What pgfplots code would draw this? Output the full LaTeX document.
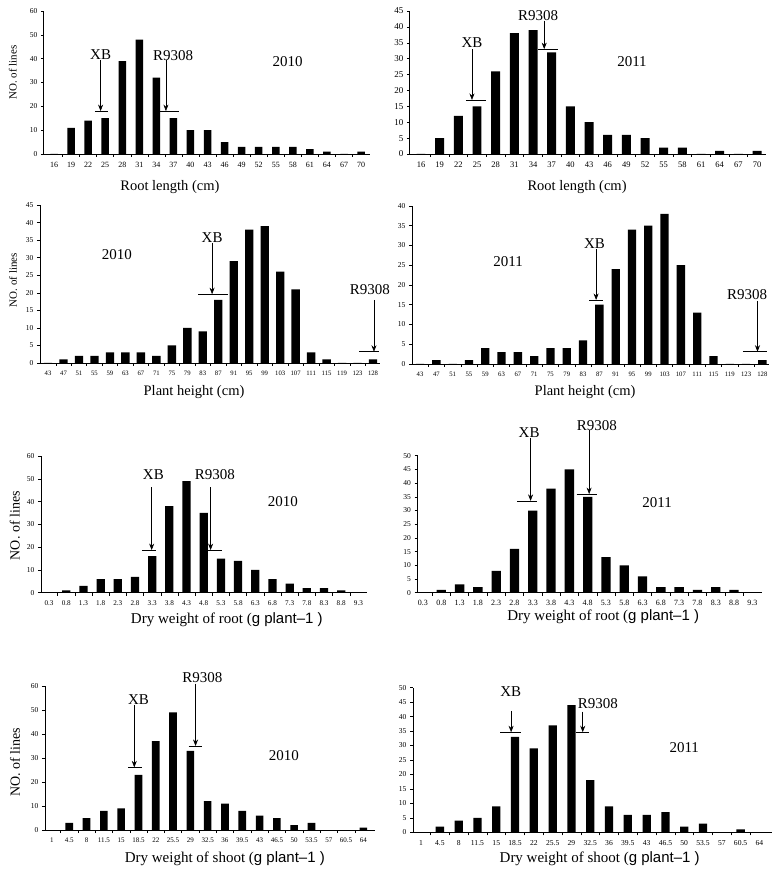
\documentclass[border=0pt]{standalone}
\usepackage{fontspec}
\setmainfont{Liberation Serif}
\newfontfamily\arialf{Liberation Sans}
\usepackage{pgfplots}
\pgfplotsset{compat=1.18}
\usetikzlibrary{arrows.meta}

\pgfplotsset{
  hist/.style={
    scale only axis, ybar, bar width=0.47,
    axis x line*=bottom, axis y line*=left,
    ymin=0, clip=false, enlargelimits=false,
    tick align=outside, major tick length=3pt, minor tick length=3pt,
    major x tick style={draw=none},
    minor x tick style={black, line width=0.5pt},
    y tick style={black, line width=0.5pt},
    axis line style={black, line width=0.7pt, -},
    tick label style={font=\fontsize{7.5}{8}\selectfont},
    xticklabel style={yshift=-1.5pt},
    /pgf/number format/assume math mode=true,
    xlabel style={font=\fontsize{14.5}{16}\selectfont, anchor=center},
    ylabel style={font=\fontsize{11}{12}\selectfont, anchor=center},
  },
  bars/.style={fill=black, draw=none},
}
\tikzset{
  ann/.style={font=\fontsize{15}{16}\selectfont, inner sep=0pt},
  arr/.style={-{Stealth[length=6.5pt,width=5pt]}, line width=0.6pt},
  lvl/.style={line width=0.7pt},
}

\begin{document}
\begin{tikzpicture}
\useasboundingbox (0,0) rectangle (779pt,876pt);

% ---------- Root length 2010 ----------
\begin{axis}[hist, at={(43.8pt,722pt)}, anchor=south west,
  width=325.8pt, height=143pt, xmin=-0.6, xmax=18.5, ymax=60,
  ytick={0,10,...,60}, bar width=0.44,
  xtick={0,...,18}, minor xtick={0.5,1.5,...,17.5},
  xticklabels={16,19,22,25,28,31,34,37,40,43,46,49,52,55,58,61,64,67,70},
  xticklabel style={font=\fontsize{8}{9}\selectfont},
  xlabel={Root length (cm)},
  xlabel style={at={(axis description cs:0.387,-0.231)}},
  ylabel={NO. of lines},
  ylabel style={at={(axis description cs:-0.095,0.57)}},
]
\addplot[bars] coordinates {(0,0) (1,11) (2,14) (3,15) (4,39) (5,48) (6,32) (7,15) (8,10) (9,10)
  (10,5) (11,3) (12,3) (13,3) (14,3) (15,2) (16,1) (17,0) (18,1)};
\node[ann] at (axis cs:2.73,41.5) {XB};
\draw[arr] (axis cs:2.73,39.4) -- (axis cs:2.73,18);
\draw[lvl] (axis cs:2.4,18) -- (axis cs:3.17,18);
\node[ann] at (axis cs:6.98,41.5) {R9308};
\draw[arr] (axis cs:6.56,39.4) -- (axis cs:6.56,18);
\draw[lvl] (axis cs:6.2,18) -- (axis cs:7.3,18);
\node[ann] at (axis cs:13.7,38.7) {2010};
\end{axis}

% ---------- Root length 2011 ----------
\begin{axis}[hist, at={(409.8pt,722pt)}, anchor=south west,
  width=356.6pt, height=143pt, xmin=-0.6, xmax=18.5, ymax=45,
  ytick={0,5,...,45}, bar width=0.48,
  yticklabel style={font=\fontsize{9}{10}\selectfont},
  xtick={0,...,18}, minor xtick={0.5,1.5,...,17.5},
  xticklabels={16,19,22,25,28,31,34,37,40,43,46,49,52,55,58,61,64,67,70},
  xticklabel style={font=\fontsize{8.5}{9}\selectfont},
  xlabel={Root length (cm)},
  xlabel style={at={(axis description cs:0.469,-0.231)}},
]
\addplot[bars] coordinates {(0,0) (1,5) (2,12) (3,15) (4,26) (5,38) (6,39) (7,32) (8,15) (9,10)
  (10,6) (11,6) (12,5) (13,2) (14,2) (15,0) (16,1) (17,0) (18,1)};
\node[ann] at (axis cs:2.73,34.9) {XB};
\draw[arr] (axis cs:2.73,32.9) -- (axis cs:2.73,17);
\draw[lvl] (axis cs:2.4,17) -- (axis cs:3.5,17);
\node[ann] at (axis cs:6.27,43.7) {R9308};
\draw[arr] (axis cs:6.6,42) -- (axis cs:6.6,33);
\draw[lvl] (axis cs:6.27,33) -- (axis cs:7.35,33);
\node[ann] at (axis cs:11.3,29) {2011};
\end{axis}

% ---------- Plant height 2010 ----------
\begin{axis}[hist, at={(40pt,513pt)}, anchor=south west,
  width=340pt, height=158pt, xmin=-0.52, xmax=21.45, ymax=45,
  ytick={0,5,...,45}, bar width=0.54,
  xtick={0,...,21}, minor xtick={0.5,1.5,...,20.5},
  xticklabels={43,47,51,55,59,63,67,71,75,79,83,87,91,95,99,103,107,111,115,119,123,128},
  xticklabel style={font=\fontsize{6.7}{7}\selectfont},
  xlabel={Plant height (cm)},
  xlabel style={at={(axis description cs:0.453,-0.184)}},
  ylabel={NO. of lines},
  ylabel style={at={(axis description cs:-0.079,0.525)}},
]
\addplot[bars] coordinates {(0,0) (1,1) (2,2) (3,2) (4,3) (5,3) (6,3) (7,2) (8,5) (9,10) (10,9)
  (11,18) (12,29) (13,38) (14,39) (15,26) (16,21) (17,3) (18,1) (19,0) (20,0) (21,1)};
\node[ann] at (axis cs:10.6,35.6) {XB};
\draw[arr] (axis cs:10.6,34.2) -- (axis cs:10.6,19.6);
\draw[lvl] (axis cs:9.7,19.6) -- (axis cs:11.6,19.6);
\node[ann] at (axis cs:20.8,21) {R9308};
\draw[arr] (axis cs:21.06,18) -- (axis cs:21.06,3.2);
\draw[lvl] (axis cs:20.1,3.2) -- (axis cs:21.4,3.2);
\node[ann] at (axis cs:4.45,30.8) {2010};
\end{axis}

% ---------- Plant height 2011 ----------
\begin{axis}[hist, at={(411.9pt,512pt)}, anchor=south west,
  width=357pt, height=158pt, xmin=-0.5, xmax=21.4, ymax=40,
  ytick={0,5,...,40}, bar width=0.51,
  xtick={0,...,21}, minor xtick={0.5,1.5,...,20.5},
  xticklabels={43,47,51,55,59,63,67,71,75,79,83,87,91,95,99,103,107,111,115,119,123,128},
  xticklabel style={font=\fontsize{6.7}{7}\selectfont},
  xlabel={Plant height (cm)},
  xlabel style={at={(axis description cs:0.485,-0.177)}},
]
\addplot[bars] coordinates {(0,0) (1,1) (2,0) (3,1) (4,4) (5,3) (6,3) (7,2) (8,4) (9,4) (10,6)
  (11,15) (12,24) (13,34) (14,35) (15,38) (16,25) (17,13) (18,2) (19,0) (20,0) (21,1)};
\node[ann] at (axis cs:10.7,30.6) {XB};
\draw[arr] (axis cs:10.8,29) -- (axis cs:10.8,16.2);
\draw[lvl] (axis cs:10.37,16.2) -- (axis cs:11.2,16.2);
\node[ann] at (axis cs:20.06,17.5) {R9308};
\draw[arr] (axis cs:20.7,16) -- (axis cs:20.7,3.1);
\draw[lvl] (axis cs:19.8,3.1) -- (axis cs:21.3,3.1);
\node[ann] at (axis cs:5.4,26) {2011};
\end{axis}

% ---------- Dry weight of root 2010 ----------
\begin{axis}[hist, at={(41pt,283.3pt)}, anchor=south west,
  width=326pt, height=136.7pt, xmin=-0.47, xmax=18.5, ymax=60,
  ytick={0,10,...,60}, bar width=0.48,
  xtick={0,...,18}, minor xtick={0.5,1.5,...,17.5},
  xticklabels={0.3,0.8,1.3,1.8,2.3,2.8,3.3,3.8,4.3,4.8,5.3,5.8,6.3,6.8,7.3,7.8,8.3,8.8,9.3},
  xticklabel style={font=\fontsize{7.2}{8}\selectfont},
  xlabel={Dry weight of root ({\arialf g plant–1 )}},
  xlabel style={font=\fontsize{15}{16}\selectfont, at={(axis description cs:0.57,-0.201)}},
  ylabel={NO. of lines},
  ylabel style={font=\fontsize{14}{15}\selectfont, at={(axis description cs:-0.08,0.49)}},
]
\addplot[bars] coordinates {(0,0) (1,1) (2,3) (3,6) (4,6) (5,7) (6,16) (7,38) (8,49) (9,35)
  (10,15) (11,14) (12,10) (13,6) (14,4) (15,2) (16,2) (17,1) (18,0)};
\node[ann] at (axis cs:6.07,52) {XB};
\draw[arr] (axis cs:5.97,46.3) -- (axis cs:5.97,18.7);
\draw[lvl] (axis cs:5.4,18.7) -- (axis cs:6.22,18.7);
\node[ann] at (axis cs:9.65,52) {R9308};
\draw[arr] (axis cs:9.4,46.3) -- (axis cs:9.4,18.7);
\draw[lvl] (axis cs:9.2,18.7) -- (axis cs:10.05,18.7);
\node[ann] at (axis cs:13.6,39.9) {2010};
\end{axis}

% ---------- Dry weight of root 2011 ----------
\begin{axis}[hist, at={(417.5pt,283.3pt)}, anchor=south west,
  width=344pt, height=137pt, xmin=-0.3, xmax=18.5, ymax=50,
  ytick={0,5,...,50}, bar width=0.51,
  xtick={0,...,18}, minor xtick={0.5,1.5,...,17.5},
  xticklabels={0.3,0.8,1.3,1.8,2.3,2.8,3.3,3.8,4.3,4.8,5.3,5.8,6.3,6.8,7.3,7.8,8.3,8.8,9.3},
  xticklabel style={font=\fontsize{8}{9}\selectfont, yshift=0.5pt},
  xlabel={Dry weight of root ({\arialf g plant–1 )}},
  xlabel style={font=\fontsize{15}{16}\selectfont, at={(axis description cs:0.54,-0.175)}},
]
\addplot[bars] coordinates {(0,0) (1,1) (2,3) (3,2) (4,8) (5,16) (6,30) (7,38) (8,45) (9,35)
  (10,13) (11,10) (12,6) (13,2) (14,2) (15,1) (16,2) (17,1) (18,0)};
\node[ann] at (axis cs:5.8,58.3) {XB};
\draw[arr] (axis cs:5.88,56.4) -- (axis cs:5.88,33.5);
\draw[lvl] (axis cs:5.15,33.5) -- (axis cs:6.25,33.5);
\node[ann] at (axis cs:9.5,61) {R9308};
\draw[arr] (axis cs:9.08,59.4) -- (axis cs:9.08,36);
\draw[lvl] (axis cs:8.4,36) -- (axis cs:9.5,36);
\node[ann] at (axis cs:12.8,32.8) {2011};
\end{axis}

% ---------- Dry weight of shoot 2010 ----------
\begin{axis}[hist, at={(45pt,46pt)}, anchor=south west,
  width=330pt, height=144pt, xmin=-0.4, xmax=18.67, ymax=60,
  ytick={0,10,...,60}, bar width=0.44,
  xtick={0,...,18}, minor xtick={0.5,1.5,...,17.5},
  xticklabels={1,4.5,8,11.5,15,18.5,22,25.5,29,32.5,36,39.5,43,46.5,50,53.5,57,60.5,64},
  xticklabel style={font=\fontsize{7}{8}\selectfont},
  xlabel={Dry weight of shoot ({\arialf g plant–1 )}},
  xlabel style={font=\fontsize{15}{16}\selectfont, at={(axis description cs:0.545,-0.201)}},
  ylabel={NO. of lines},
  ylabel style={font=\fontsize{14}{15}\selectfont, at={(axis description cs:-0.091,0.47)}},
]
\addplot[bars] coordinates {(0,0) (1,3) (2,5) (3,8) (4,9) (5,23) (6,37) (7,49) (8,33) (9,12)
  (10,11) (11,8) (12,6) (13,5) (14,2) (15,3) (16,0) (17,0) (18,1)};
\node[ann] at (axis cs:5.0,54.4) {XB};
\draw[arr] (axis cs:4.76,52) -- (axis cs:4.76,26.1);
\draw[lvl] (axis cs:4.4,26.1) -- (axis cs:5.2,26.1);
\node[ann] at (axis cs:8.7,63.6) {R9308};
\draw[arr] (axis cs:8.3,61) -- (axis cs:8.3,35);
\draw[lvl] (axis cs:7.9,35) -- (axis cs:8.7,35);
\node[ann] at (axis cs:13.4,31.2) {2010};
\end{axis}

% ---------- Dry weight of shoot 2011 ----------
\begin{axis}[hist, at={(413pt,43.7pt)}, anchor=south west,
  width=359pt, height=144.6pt, xmin=-0.43, xmax=18.67, ymax=50,
  ytick={0,5,...,50}, bar width=0.44,
  xtick={0,...,18}, minor xtick={0.5,1.5,...,17.5},
  xticklabels={1,4.5,8,11.5,15,18.5,22,25.5,29,32.5,36,39.5,43,46.5,50,53.5,57,60.5,64},
  xticklabel style={font=\fontsize{7.6}{8}\selectfont},
  xlabel={Dry weight of shoot ({\arialf g plant–1 )}},
  xlabel style={font=\fontsize{15}{16}\selectfont, at={(axis description cs:0.52,-0.18)}},
]
\addplot[bars] coordinates {(0,0) (1,2) (2,4) (3,5) (4,9) (5,33) (6,29) (7,37) (8,44) (9,18)
  (10,9) (11,6) (12,6) (13,7) (14,2) (15,3) (16,0) (17,1) (18,0)};
\node[ann] at (axis cs:4.77,48.6) {XB};
\draw[arr] (axis cs:4.79,42) -- (axis cs:4.79,34.6);
\draw[lvl] (axis cs:4.2,34.6) -- (axis cs:5.3,34.6);
\node[ann] at (axis cs:9.4,44.4) {R9308};
\draw[arr] (axis cs:8.6,41.7) -- (axis cs:8.6,34.6);
\draw[lvl] (axis cs:8.25,34.6) -- (axis cs:8.95,34.6);
\node[ann] at (axis cs:14.0,29.4) {2011};
\end{axis}
\end{tikzpicture}
\end{document}
